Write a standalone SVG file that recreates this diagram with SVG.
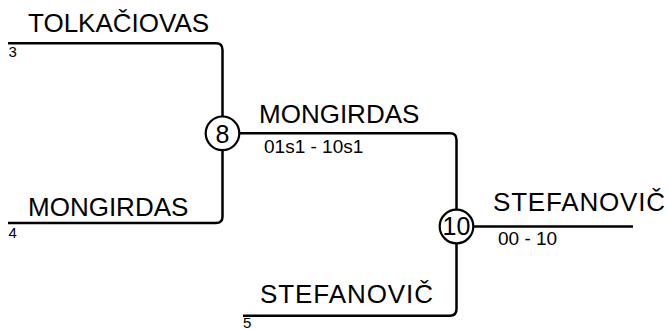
<svg xmlns="http://www.w3.org/2000/svg" width="669" height="329" viewBox="0 0 669 329">
<style>
.ln{fill:none;stroke:#000;stroke-width:2.5;}
.nd{fill:#fff;stroke:#000;stroke-width:2.2;}
.nm{font-family:"Liberation Sans",Arial,sans-serif;font-size:26px;fill:#000;}
.sc{font-family:"Liberation Sans",Arial,sans-serif;font-size:19px;fill:#000;}
.sd{font-family:"Liberation Sans",Arial,sans-serif;font-size:15px;fill:#000;}
.num{font-family:"Liberation Sans",Arial,sans-serif;font-size:25px;fill:#000;text-anchor:middle;}
</style>
<g id="connectors">
<path class="ln" d="M8,43.3 H216 Q222.5,43.3 222.5,50 V116"/>
<path class="ln" d="M8,223 H216 Q222.5,223 222.5,216.5 V151"/>
<path class="ln" d="M240,133.3 H450 Q456.5,133.3 456.5,140 V209"/>
<path class="ln" d="M243,315.7 H450 Q456.5,315.7 456.5,309 V244"/>
<path class="ln" d="M474,226.5 H633"/>
</g>
<g id="seed-tolkaciovas">
<text class="nm" x="28" y="32">TOLKAČIOVAS</text>
<text class="sd" x="8.5" y="56.5">3</text>
</g>
<g id="seed-mongirdas">
<text class="nm" x="28" y="216">MONGIRDAS</text>
<text class="sd" x="8.5" y="238">4</text>
</g>
<g id="seed-stefanovic">
<text class="nm" x="260" y="303.3" textLength="173" lengthAdjust="spacing">STEFANOVIČ</text>
<text class="sd" x="243" y="328">5</text>
</g>
<g id="match-8">
<circle class="nd" cx="222.5" cy="133.3" r="16.8"/>
<text class="num" x="222.5" y="142.5">8</text>
<text class="nm" x="259" y="123.3">MONGIRDAS</text>
<text class="sc" x="264" y="153.3">01s1 - 10s1</text>
</g>
<g id="match-10">
<circle class="nd" cx="456.5" cy="226.5" r="16.8"/>
<text class="num" x="456.5" y="235.3">10</text>
<text class="nm" x="493" y="210.7" textLength="172" lengthAdjust="spacing">STEFANOVIČ</text>
<text class="sc" x="498" y="245">00 - 10</text>
</g>
</svg>
